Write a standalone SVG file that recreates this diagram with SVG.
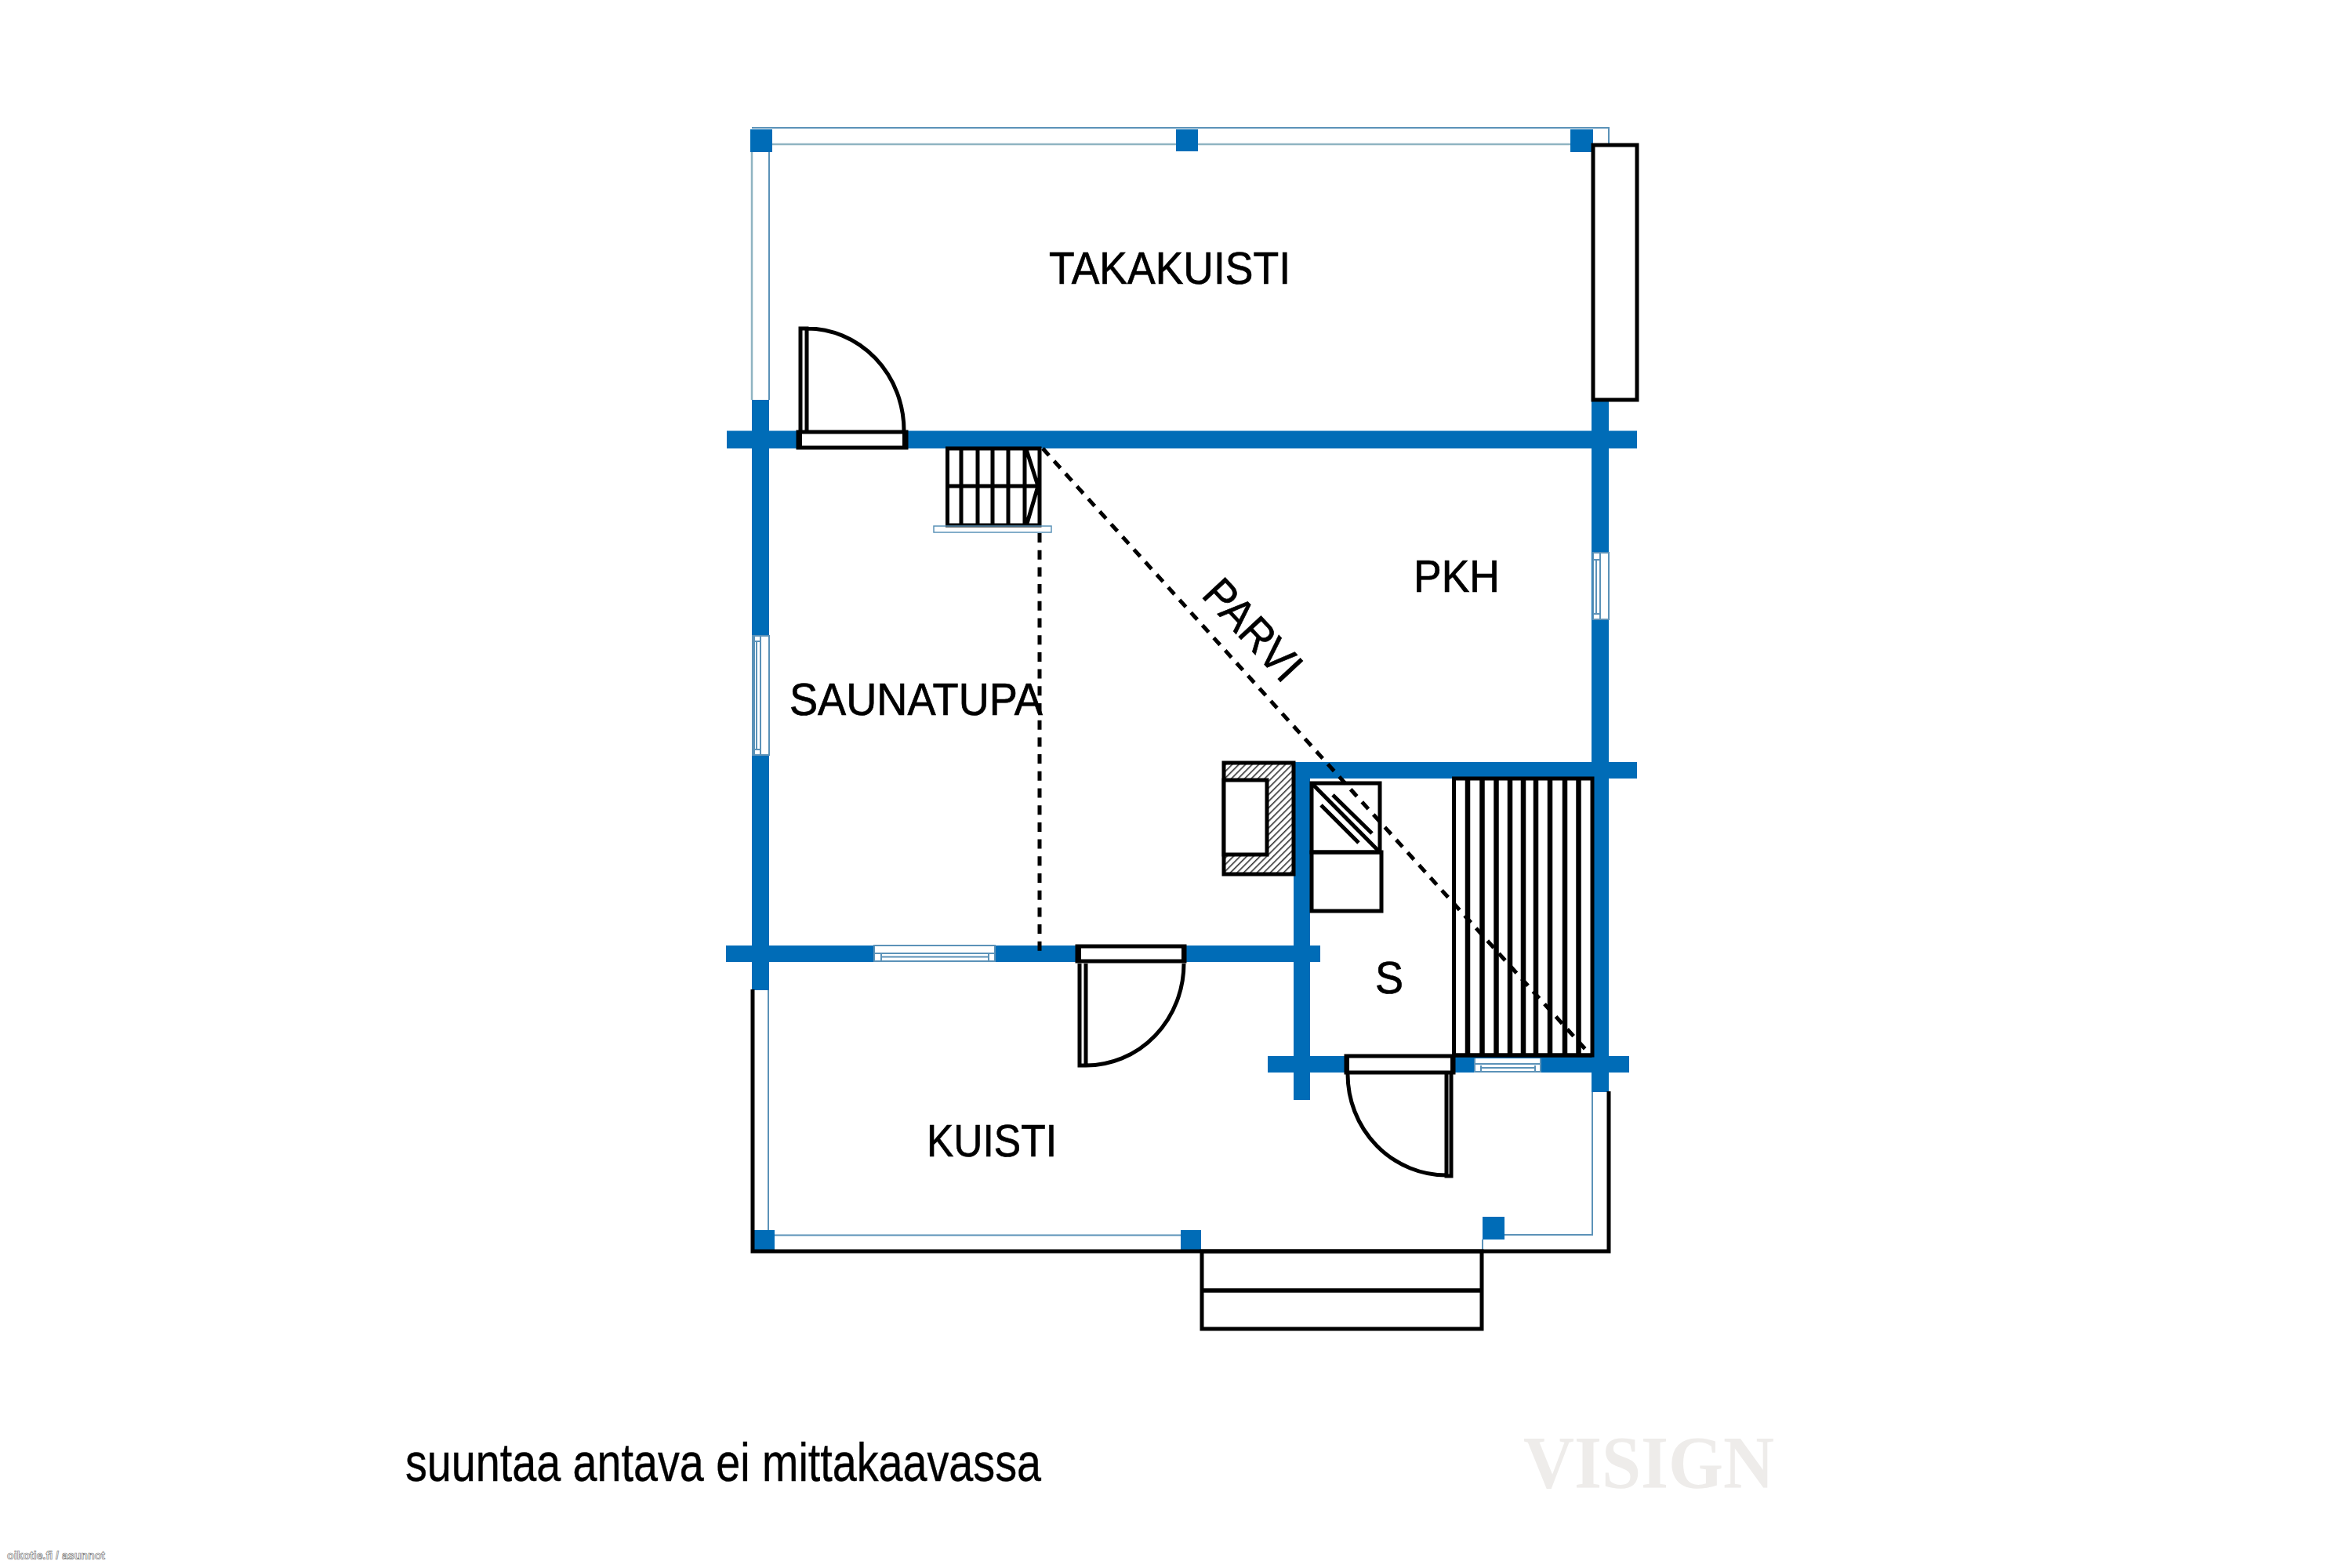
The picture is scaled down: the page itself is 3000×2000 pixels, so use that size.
<svg xmlns="http://www.w3.org/2000/svg" width="3000" height="2000" viewBox="0 0 3000 2000">
<style>
.w{fill:#006cb7}
.l{fill:none;stroke:#5b92b8;stroke-width:2}
.g{fill:none;stroke:#8fb4c2;stroke-width:2.500}
.win{fill:#fff;stroke:#5b92b8;stroke-width:2}
.k{fill:none;stroke:#000;stroke-width:5}
.kf{fill:#fff;stroke:#000;stroke-width:5}
.d{fill:none;stroke:#000;stroke-width:5;stroke-dasharray:12 9.700}
.t{font-family:"Liberation Sans",Arial,sans-serif;font-size:57px;fill:#000;stroke:#000;stroke-width:.7px}
</style>
<defs>
<pattern id="hatch" width="6" height="6" patternUnits="userSpaceOnUse" patternTransform="rotate(45)">
<rect width="6" height="6" fill="#fff"/><rect width="1.600" height="6" fill="#333"/>
</pattern>
</defs>
<rect width="3000" height="2000" fill="#fff"/>
<g id="porch-lines">
<path class="g" d="M959 190V510M959 184H2003"/>
<path class="l" d="M981 190V510M959 163H2052V184"/>
<path class="l" d="M980 1263V1570M988 1575.500H1506M2031 1393V1575H1919M1891 1581V1596"/>
</g>
<g id="walls">
<rect class="w" x="927" y="549.500" width="1161" height="22.500"/>
<rect class="w" x="959" y="510" width="22" height="753"/>
<rect class="w" x="926" y="1206" width="758" height="21"/>
<rect class="w" x="1651" y="972" width="437" height="21"/>
<rect class="w" x="1650" y="972" width="21" height="431"/>
<rect class="w" x="2030" y="510" width="22" height="883"/>
<rect class="w" x="1617" y="1347" width="461" height="21"/>
<rect class="w" x="957" y="165" width="28" height="29"/>
<rect class="w" x="1500" y="165" width="28" height="28"/>
<rect class="w" x="2003" y="165" width="29" height="29"/>
<rect class="w" x="962" y="1569" width="26" height="26"/>
<rect class="w" x="1506" y="1569" width="26" height="26"/>
<rect class="w" x="1891" y="1552" width="28" height="29"/>
</g>
<g id="windows">
<g id="window-south"><rect class="win" x="1115" y="1206" width="154" height="20"/><path class="l" d="M1124 1216V1225M1261 1216V1225M1115 1216H1269M1124 1220.500H1261"/></g>
<g id="window-sauna"><rect fill="#fff" x="1881" y="1350" width="84" height="18"/><path class="l" d="M1889 1359V1367M1958 1359V1367M1881 1357H1965M1889 1362H1958M1881 1367H1965M1881 1350V1368M1965 1350V1368"/></g>
<g id="window-east"><rect class="win" x="2032" y="705" width="20" height="85"/><path class="l" d="M2041 705V790M2036 714V783M2032 714H2041M2032 783H2041"/></g>
<g id="window-west"><rect class="win" x="960" y="811" width="21" height="152"/><path class="l" d="M970 811V963M962 811V963M965 818V956M962 818H970M962 956H970"/></g>
</g>
<g id="outer-lines">
<path class="k" d="M960 1262V1596H2052V1392"/>
<rect class="kf" x="2032" y="185" width="56" height="325"/>
</g>
<g id="steps">
<rect class="k" x="1533" y="1596" width="357" height="99"/>
<path fill="none" stroke="#000" stroke-width="5.500" d="M1533 1646H1890"/>
</g>
<g id="door-north">
<path class="k" d="M1021 549V419H1029V549M1029 419A124 130 0 0 1 1153 549"/>
<rect class="kf" x="1018" y="551" width="138" height="20"/>
<rect x="1016" y="549" width="7" height="24"/><rect x="1151" y="549" width="7" height="24"/>
</g>
<g id="door-south">
<path class="k" d="M1377 1229V1359H1385V1229M1385 1359A125 130 0 0 0 1510 1229"/>
<rect class="kf" x="1374" y="1207" width="137" height="19"/>
<rect x="1372" y="1205" width="7" height="23"/><rect x="1507" y="1205" width="6" height="23"/>
</g>
<g id="door-sauna">
<path class="k" d="M1851 1370V1500H1845V1370M1845 1499A126 129 0 0 1 1719 1370"/>
<rect class="kf" x="1717" y="1347" width="137" height="21"/>
<rect x="1715" y="1345" width="6" height="25"/><rect x="1850" y="1345" width="6" height="25"/>
</g>
<g id="stairs">
<path class="k" d="M1208.500 572H1326V670H1208.500ZM1226 572V670M1247 572V670M1266 572V670M1286 572V670M1307 572V670M1208 620H1324M1309 573L1324 620L1309 671"/>
<rect fill="none" stroke="#5b92b8" stroke-width="1.500" x="1191" y="671" width="150" height="8"/>
</g>
<g id="fireplace">
<rect x="1561" y="973" width="89" height="142" fill="url(#hatch)" stroke="#000" stroke-width="5"/>
<rect class="kf" x="1561" y="995" width="55" height="95"/>
</g>
<g id="stove">
<rect class="k" x="1673" y="999" width="87" height="88"/>
<rect class="k" x="1673" y="1087" width="89" height="75"/>
<path class="k" d="M1673 999L1760 1087M1700 1014L1750 1063M1685 1027L1733 1075"/>
</g>
<g id="bench">
<rect class="k" x="1854.500" y="993" width="176.500" height="353"/>
<path fill="none" stroke="#000" stroke-width="6.500" d="M1872 993V1346M1890.500 993V1346M1908.500 993V1346M1926 993V1346M1943 993V1346M1959 993V1346M1977 993V1346M1996 993V1346M2013.500 993V1346"/>
<path stroke="#000" stroke-width="5" d="M1854 1346H2031"/>
</g>
<g id="connectors">
<path class="d" d="M1326 680V1214"/>
<path class="d" d="M1330 572L2030 1347"/>
</g>
<g id="labels">
<text class="t" x="1338" y="362" textLength="308" lengthAdjust="spacingAndGlyphs">TAKAKUISTI</text>
<text class="t" x="1803" y="755" textLength="110" lengthAdjust="spacingAndGlyphs">PKH</text>
<text class="t" x="1007" y="912" textLength="323" lengthAdjust="spacingAndGlyphs">SAUNATUPA</text>
<text class="t" x="1182" y="1475" textLength="166" lengthAdjust="spacingAndGlyphs">KUISTI</text>
<text class="t" x="1754" y="1267" textLength="36" lengthAdjust="spacingAndGlyphs">S</text>
<text class="t" transform="translate(1531 760) rotate(47)" textLength="155" lengthAdjust="spacingAndGlyphs">PARVI</text>
<text x="517" y="1889" font-family="'Liberation Sans',Arial,sans-serif" font-size="68" stroke="#000" stroke-width=".4" textLength="811" lengthAdjust="spacingAndGlyphs">suuntaa antava ei mittakaavassa</text>
<text x="1943" y="1898" font-family="'Liberation Serif','Times New Roman',serif" font-weight="bold" font-size="95" fill="#eeecea" textLength="320" lengthAdjust="spacingAndGlyphs">VISIGN</text>
<text x="9" y="1989" font-family="'Liberation Sans',Arial,sans-serif" font-size="15" font-weight="bold" fill="#fff" stroke="#777" stroke-width="0.7" textLength="125" lengthAdjust="spacingAndGlyphs">oikotie.fi / asunnot</text>
</g>
</svg>
